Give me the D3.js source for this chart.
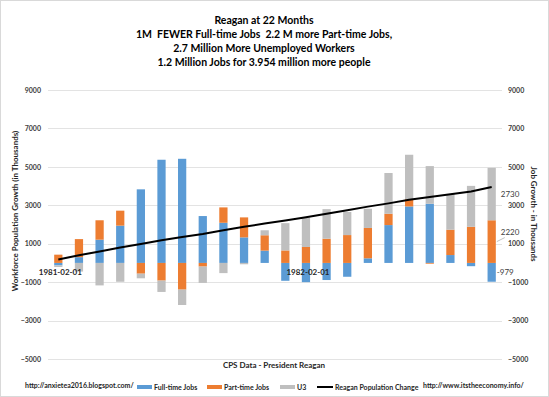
<!DOCTYPE html>
<html>
<head>
<meta charset="utf-8">
<script src="https://cdn.jsdelivr.net/npm/d3@7"></script>
<style>
  body { margin: 0; background: #fff; }
  text { font-family: Lato, "Open Sans", sans-serif; white-space: pre; }
</style>
</head>
<body>
<div id="chart"></div>
<script>
var svgWidth = 549;
var svgHeight = 397;

// months since Reagan took office
var months = ["1981-02-01","1981-03-01","1981-04-01","1981-05-01","1981-06-01","1981-07-01",
  "1981-08-01","1981-09-01","1981-10-01","1981-11-01","1981-12-01","1982-01-01",
  "1982-02-01","1982-03-01","1982-04-01","1982-05-01","1982-06-01","1982-07-01",
  "1982-08-01","1982-09-01","1982-10-01","1982-11-01"];

// cumulative change, thousands
var fullTime = [-130, 300, 1210, 1940, 3830, 5370, 5420, 2440, 2090, 1330, 640, -930,
  -1000, -890, -720, 240, 1970, 2940, 3080, 410, -170, -979];
var partTime = [430, 940, 1010, 780, -560, -920, -1390, -190, 800, 1040, 800, 650,
  830, 1260, 1450, 1580, 590, 380, -40, 1320, 1880, 2220];
var u3 = [-80, -450, -1170, -980, -240, -590, -800, -850, -530, -70, 260, 1420,
  1540, 1540, 1200, 1000, 2120, 2310, 1960, 1860, 2130, 2730];
var popChange = [180, 400, 600, 800, 990, 1180, 1350, 1510, 1700, 1880, 2050, 2210,
  2380, 2560, 2740, 2930, 3100, 3290, 3430, 3580, 3720, 3954];

var yTicks = [-5000, -3000, -1000, 1000, 3000, 5000, 7000, 9000];
var titleLines = ["Reagan at 22 Months",
  "1M  FEWER Full-time Jobs  2.2 M more Part-time Jobs,",
  "2.7 Million More Unemployed Workers",
  "1.2 Million Jobs for 3.954 million more people"];
var seriesNames = ["Full-time Jobs", "Part-time Jobs", "U3"];
var colors = ["#5B9BD5", "#ED7D31", "#BFBFBF"];

var plot = {left: 48, right: 502, top: 90, bottom: 359};

var svg = d3.select("#chart").append("svg")
  .attr("width", svgWidth)
  .attr("height", svgHeight);

svg.append("rect")
  .attr("x", 0.5).attr("y", 0.5)
  .attr("width", svgWidth - 1).attr("height", svgHeight - 1)
  .attr("fill", "#fff").attr("stroke", "#d9d9d9");

var x = d3.scaleBand()
  .domain(months)
  .range([plot.left, plot.right])
  .paddingInner(0.6)
  .paddingOuter(0.3);

var y = d3.scaleLinear()
  .domain([-5000, 9000])
  .range([plot.bottom, plot.top]);

// gridlines
svg.append("g").selectAll("line")
  .data(yTicks)
  .enter().append("line")
  .attr("x1", plot.left).attr("x2", plot.right)
  .attr("y1", d => Math.round(y(d)) + 0.5)
  .attr("y2", d => Math.round(y(d)) + 0.5)
  .attr("stroke", "#e3e3e3");

// axes
var leftAxis = svg.append("g")
  .attr("transform", `translate(${plot.left},0)`)
  .call(d3.axisLeft(y).tickValues(yTicks).tickSize(0).tickPadding(7).tickFormat(d3.format("d")));
var rightAxis = svg.append("g")
  .attr("transform", `translate(${plot.right},0)`)
  .call(d3.axisRight(y).tickValues(yTicks).tickSize(0).tickPadding(6).tickFormat(d3.format("d")));
[leftAxis, rightAxis].forEach(a => {
  a.select(".domain").remove();
  a.selectAll("text")
    .attr("font-family", "Lato, sans-serif")
    .attr("font-size", "7px")
    .attr("font-weight", "bold")
    .attr("fill", "#404040");
});

// stacked bars
var table = months.map((m, i) => ({month: m, full: fullTime[i], part: partTime[i], u3: u3[i]}));
var stack = d3.stack()
  .keys(["full", "part", "u3"])
  .offset(d3.stackOffsetDiverging);
var layers = stack(table);

svg.append("g").selectAll("g")
  .data(layers)
  .enter().append("g")
  .attr("fill", (d, i) => colors[i])
  .selectAll("rect")
  .data(d => d)
  .enter().append("rect")
  .attr("x", d => x(d.data.month))
  .attr("width", x.bandwidth())
  .attr("y", d => y(Math.max(d[0], d[1])))
  .attr("height", d => Math.abs(y(d[0]) - y(d[1])));

// population line
var line = d3.line()
  .x((d, i) => x(months[i]) + x.bandwidth() / 2)
  .y(d => y(d));
svg.append("path")
  .datum(popChange)
  .attr("d", line)
  .attr("fill", "none")
  .attr("stroke", "#000")
  .attr("stroke-width", 2);

// date labels
[0, 12].forEach(i => {
  svg.append("text")
    .attr("x", x(months[i]) + x.bandwidth() / 2 + 2)
    .attr("y", y(0) + 12)
    .attr("text-anchor", "middle")
    .attr("font-family", "Liberation Serif, serif")
    .attr("font-size", "8px")
    .attr("font-weight", "bold")
    .attr("fill", "#262626")
    .text(months[i]);
});

// end value labels
var last = months.length - 1;
var lastFull = layers[0][last], lastPart = layers[1][last], lastU3 = layers[2][last];
var lx = x(months[last]) + x.bandwidth() + 5;
svg.append("line")
  .attr("x1", lx - 4).attr("y1", y((lastPart[0] + lastPart[1]) / 2) + 0)
  .attr("x2", lx + 4).attr("y2", y((lastPart[0] + lastPart[1]) / 2) - 4)
  .attr("stroke", "#a6a6a6").attr("stroke-width", 0.7);
[
  {v: u3[last], yv: (lastU3[0] + lastU3[1]) / 2, dy: 0},
  {v: partTime[last], yv: (lastPart[0] + lastPart[1]) / 2, dy: -10},
  {v: fullTime[last], yv: (lastFull[0] + lastFull[1]) / 2, dy: 0}
].forEach(d => {
  svg.append("text")
    .attr("x", d.v < 0 ? lx - 4 : lx)
    .attr("y", y(d.yv) + d.dy + 3)
    .attr("font-family", "Liberation Serif, serif")
    .attr("font-size", "8px")
    .attr("fill", "#404040")
    .text(d.v);
});

// title
svg.append("g").selectAll("text")
  .data(titleLines)
  .enter().append("text")
  .attr("x", 264)
  .attr("y", (d, i) => 24 + i * 13.9)
  .attr("text-anchor", "middle")
  .attr("font-size", "10.5px")
  .attr("font-weight", "bold")
  .attr("fill", "#000")
  .text(d => d);

// axis titles
svg.append("text")
  .attr("transform", "translate(18,211) rotate(-90)")
  .attr("text-anchor", "middle")
  .attr("font-size", "8px")
  .attr("font-weight", "bold")
  .attr("fill", "#262626")
  .text("Workforce Population Growth (in Thousands)");
svg.append("text")
  .attr("transform", "translate(531,214) rotate(90)")
  .attr("text-anchor", "middle")
  .attr("font-size", "8px")
  .attr("font-weight", "bold")
  .attr("fill", "#262626")
  .text("Job Growth - in Thousands");
svg.append("text")
  .attr("x", 274)
  .attr("y", 368)
  .attr("text-anchor", "middle")
  .attr("font-size", "8px")
  .attr("font-weight", "bold")
  .attr("fill", "#262626")
  .text("CPS Data - President Reagan");

// legend
var legendX = [137, 207, 280, 317];
var legend = svg.append("g");
seriesNames.forEach((name, i) => {
  legend.append("rect")
    .attr("x", legendX[i]).attr("y", 385)
    .attr("width", 15).attr("height", 4)
    .attr("fill", colors[i]);
  legend.append("text")
    .attr("x", legendX[i] + 17).attr("y", 390)
    .attr("font-size", "7px").attr("font-weight", "bold").attr("fill", "#262626")
    .text(name);
});
legend.append("line")
  .attr("x1", legendX[3]).attr("x2", legendX[3] + 16)
  .attr("y1", 387).attr("y2", 387)
  .attr("stroke", "#000").attr("stroke-width", 2);
legend.append("text")
  .attr("x", legendX[3] + 18).attr("y", 390)
  .attr("font-size", "7px").attr("font-weight", "bold").attr("fill", "#262626")
  .text("Reagan Population Change");

svg.append("text")
  .attr("x", 25).attr("y", 388)
  .attr("font-size", "7px").attr("font-weight", "bold").attr("fill", "#262626")
  .text("http://anxietea2016.blogspot.com/");
svg.append("text")
  .attr("x", 423).attr("y", 388)
  .attr("font-size", "7px").attr("font-weight", "bold").attr("fill", "#262626")
  .text("http://www.itstheeconomy.info/");
</script>
</body>
</html>
